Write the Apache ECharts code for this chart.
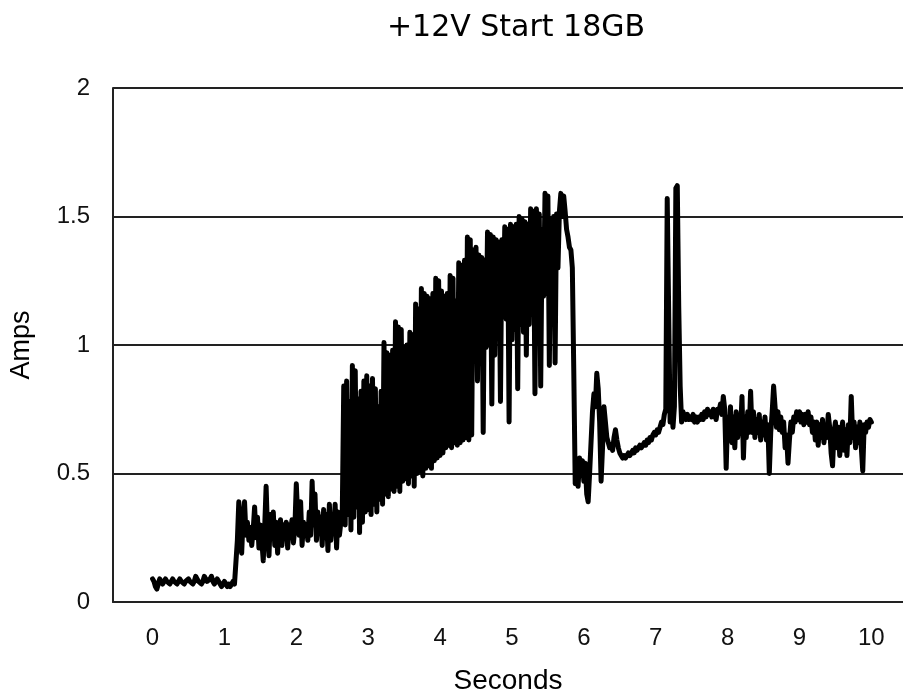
<!DOCTYPE html>
<html>
<head>
<meta charset="utf-8">
<script src="https://cdn.jsdelivr.net/npm/echarts@6/dist/echarts.min.js"></script>
<style>
  html, body { margin: 0; padding: 0; background: #fff; }
  #chart { width: 903px; height: 700px; }
</style>
</head>
<body>
<div id="chart"></div>
<script>
// +12V rail current during drive spin-up, sampled every 20 ms
const sampleStep = 0.02; // seconds between samples
const amps = [
  // 0.0 - 0.5 s
  0.09,0.08,0.06,0.05,0.07,0.09,0.08,0.07,0.08,0.09,0.08,0.08,0.07,0.08,0.09,0.08,0.08,0.07,0.08,0.09,0.08,0.08,0.07,0.08,0.08,
  // 0.5 - 1.0 s
  0.09,0.08,0.08,0.07,0.08,0.10,0.09,0.08,0.08,0.07,0.08,0.10,0.09,0.08,0.08,0.09,0.10,0.08,0.07,0.08,0.09,0.08,0.07,0.06,0.07,
  // 1.0 - 1.5 s
  0.08,0.07,0.06,0.07,0.06,0.07,0.08,0.07,0.07,0.24,0.39,0.27,0.19,0.33,0.39,0.26,0.31,0.24,0.29,0.22,0.28,0.37,0.25,0.33,0.21,
  // 1.5 - 2.0 s
  0.30,0.24,0.16,0.29,0.45,0.27,0.18,0.34,0.25,0.35,0.22,0.31,0.19,0.29,0.32,0.22,0.30,0.26,0.31,0.21,0.30,0.27,0.32,0.23,0.29,
  // 2.0 - 2.5 s
  0.46,0.33,0.26,0.39,0.22,0.31,0.27,0.30,0.24,0.35,0.26,0.47,0.30,0.42,0.24,0.35,0.27,0.33,0.22,0.36,0.25,0.34,0.20,0.38,0.24,
  // 2.5 - 3.0 s
  0.31,0.27,0.38,0.21,0.35,0.26,0.31,0.36,0.84,0.30,0.86,0.34,0.78,0.28,0.92,0.33,0.90,0.37,0.79,0.27,0.82,0.31,0.86,0.35,0.88,
  // 3.0 - 3.5 s
  0.36,0.84,0.34,0.87,0.38,0.83,0.35,0.76,0.40,0.82,0.38,1.01,0.42,0.97,0.41,0.96,0.44,0.98,0.43,1.09,0.45,1.07,0.43,1.06,0.47,
  // 3.5 - 4.0 s
  0.99,0.48,1.00,0.46,1.05,0.49,1.04,0.45,1.16,0.50,1.14,0.51,1.22,0.49,1.20,0.52,1.19,0.53,1.18,0.52,1.20,0.55,1.26,0.56,1.25,
  // 4.0 - 4.5 s
  0.57,1.21,0.58,1.19,0.60,1.20,0.61,1.27,0.60,1.26,0.62,1.17,0.61,1.32,0.62,1.31,0.63,1.33,0.64,1.42,0.63,1.41,0.65,1.37,1.04,
  // 4.5 - 5.0 s
  1.38,0.86,1.35,0.97,1.34,0.66,1.33,0.99,1.44,1.00,1.43,0.77,1.42,0.96,1.41,1.05,1.40,0.78,1.41,1.12,1.46,1.10,1.45,0.70,1.47,
  // 5.0 - 5.5 s
  1.02,1.46,1.06,1.47,0.83,1.50,1.08,1.49,1.05,1.48,0.96,1.47,1.08,1.53,1.12,1.52,0.81,1.53,1.18,1.51,0.84,1.45,1.19,1.59,1.20,
  // 5.5 - 6.0 s
  1.58,0.92,1.49,1.21,1.50,0.93,1.51,1.30,1.52,1.59,1.50,1.58,1.52,1.45,1.42,1.38,1.37,1.30,0.90,0.46,0.55,0.45,0.56,0.50,0.55,
  // 6.0 - 6.5 s
  0.47,0.54,0.42,0.39,0.50,0.62,0.74,0.81,0.76,0.89,0.83,0.70,0.47,0.60,0.76,0.70,0.64,0.62,0.60,0.61,0.59,0.64,0.67,0.63,0.60,
  // 6.5 - 7.0 s
  0.58,0.57,0.56,0.57,0.56,0.57,0.58,0.57,0.58,0.59,0.58,0.60,0.59,0.60,0.61,0.60,0.61,0.62,0.61,0.63,0.62,0.64,0.63,0.65,0.66,
  // 7.0 - 7.5 s
  0.65,0.67,0.66,0.68,0.70,0.69,0.73,0.75,1.57,1.57,0.70,0.78,0.68,0.76,1.61,1.62,1.15,0.84,0.70,0.74,0.72,0.71,0.73,0.71,0.72,
  // 7.5 - 8.0 s
  0.71,0.73,0.70,0.72,0.70,0.72,0.71,0.73,0.71,0.74,0.72,0.75,0.73,0.74,0.72,0.75,0.73,0.71,0.75,0.74,0.77,0.73,0.80,0.75,0.52,
  // 8.0 - 8.5 s
  0.72,0.66,0.76,0.62,0.72,0.60,0.74,0.64,0.70,0.66,0.80,0.56,0.72,0.64,0.74,0.66,0.82,0.66,0.74,0.64,0.71,0.66,0.73,0.63,0.70,
  // 8.5 - 9.0 s
  0.65,0.72,0.63,0.69,0.50,0.66,0.74,0.84,0.76,0.68,0.74,0.67,0.72,0.66,0.70,0.60,0.65,0.54,0.63,0.70,0.66,0.72,0.70,0.74,0.71,
  // 9.0 - 9.5 s
  0.74,0.70,0.73,0.69,0.73,0.70,0.74,0.69,0.72,0.66,0.70,0.63,0.70,0.61,0.69,0.64,0.71,0.62,0.68,0.64,0.73,0.68,0.58,0.53,0.66,
  // 9.5 - 10.0 s
  0.70,0.60,0.68,0.57,0.66,0.70,0.59,0.67,0.57,0.69,0.62,0.80,0.64,0.70,0.60,0.68,0.62,0.70,0.60,0.51,0.69,0.66,0.70,0.68,0.71,
  // 10.0 s
  0.70
];

const secondsTicks = [0, 1, 2, 3, 4, 5, 6, 7, 8, 9, 10];
const ampsTicks = [0, 0.5, 1, 1.5, 2];

const points = amps.map((v, i) => [Number((i * sampleStep).toFixed(2)), v]);

const FONT = '"Liberation Sans", Arial, sans-serif';

const chart = echarts.init(document.getElementById('chart'), null, { renderer: 'canvas' });
chart.setOption({
  animation: false,
  backgroundColor: '#ffffff',
  title: {
    text: '+12V Start 18GB',
    left: 511,
    top: 8,
    textAlign: 'center',
    textStyle: { fontFamily: '"DejaVu Sans", sans-serif', fontSize: 30, fontWeight: 'normal', color: '#000' }
  },
  grid: { left: 111, top: 88, width: 802, height: 514, containLabel: false },
  xAxis: {
    type: 'value',
    min: -0.55,
    max: 10.44,
    name: 'Seconds',
    nameLocation: 'middle',
    nameGap: 65,
    nameTextStyle: { fontFamily: FONT, fontSize: 28, color: '#000' },
    axisLine: { show: true, onZero: false, lineStyle: { color: '#222', width: 2 } },
    axisTick: { show: false },
    splitLine: { show: false },
    axisLabel: {
      customValues: secondsTicks,
      margin: 24,
      fontFamily: FONT,
      fontSize: 24,
      color: '#111',
      formatter: v => String(v)
    }
  },
  yAxis: {
    type: 'value',
    min: ampsTicks[0],
    max: ampsTicks[ampsTicks.length - 1],
    interval: 0.5,
    name: 'Amps',
    nameLocation: 'middle',
    nameRotate: 90,
    nameGap: 78,
    nameTextStyle: { fontFamily: FONT, fontSize: 27, color: '#000' },
    axisLine: { show: true, onZero: false, lineStyle: { color: '#222', width: 2 } },
    axisTick: { show: false },
    axisLabel: {
      margin: 23,
      fontFamily: FONT,
      fontSize: 24,
      color: '#111',
      formatter: v => String(v)
    },
    splitLine: { show: true, lineStyle: { color: '#222', width: 2 } }
  },
  series: [{
    type: 'line',
    data: points,
    showSymbol: false,
    symbol: 'none',
    sampling: null,
    lineStyle: { color: '#000', width: 5, join: 'round', cap: 'round' },
    clip: true
  }]
});
</script>
</body>
</html>
